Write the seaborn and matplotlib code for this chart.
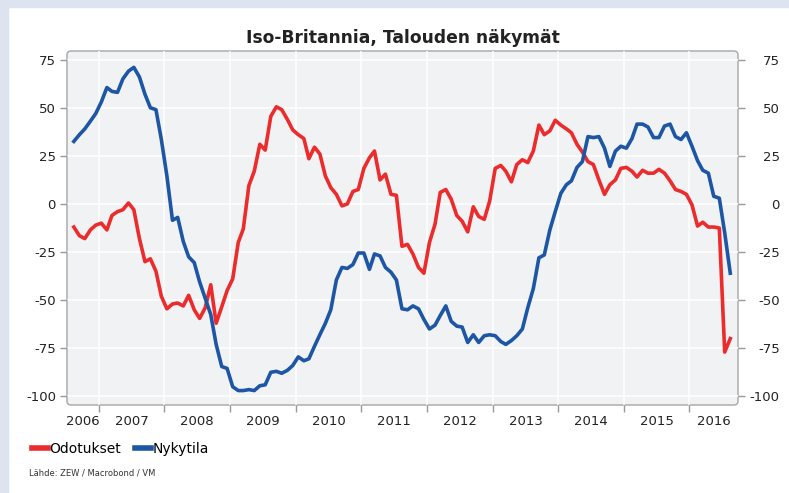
import pandas as pd
import matplotlib
matplotlib.use("Agg")
import matplotlib.pyplot as plt
import matplotlib.dates as mdates
from matplotlib.patches import FancyBboxPatch, Rectangle
import seaborn as sns

# Monthly values, Aug 2006 - Aug 2016
odotukset = [-12, -16.5, -18, -13.5, -11, -10, -13.5, -6, -4, -3, 0.5, -3,
             -18, -30, -28.5, -35, -48, -54.5, -52, -51.5, -53, -47.5, -55, -59.5,
             -54, -42, -62, -53.5, -45, -39, -20, -13, 9.5, 17, 31, 28,
             45.5, 50.5, 49, 44, 38.5, 36, 34, 23.5, 29.5, 26, 14.5, 8.5,
             5, -1, 0, 6.5, 7.5, 18.5, 24, 27.5, 12.5, 15.5, 5, 4.5,
             -22, -21, -26, -33, -36, -20, -10.5, 6, 7.5, 2.5, -6, -9,
             -14.5, -1.5, -6.5, -8, 1.5, 18.5, 20, 17, 11.5, 20.5, 23, 21.5,
             27.5, 41, 36, 38, 43.5, 41, 39, 37, 31, 27, 22, 20.5,
             12.5, 5, 10, 12.5, 18.5, 19, 17, 14, 17.5, 16, 16, 18,
             16, 12, 7.5, 6.5, 5, -0.5, -11.5, -9.5, -12, -12, -12.5, -77,
             -70]
nykytila = [32.5, 36, 39, 43, 47, 53, 60.5, 58.5, 58, 65, 69, 71,
            66, 57, 50, 49, 33.5, 14.5, -8.5, -7, -19.5, -27.5, -30.5, -40.5,
            -49, -57.5, -73, -84.5, -85.5, -95, -97, -97, -96.5, -97, -94.5, -94,
            -87.5, -87, -88, -86.5, -84, -79.5, -81.5, -80.5, -74, -68, -62, -55,
            -39.5, -33, -33.5, -31.5, -25.5, -25.5, -34, -26, -27, -33, -35.5, -39.5,
            -54.5, -55, -53, -54.5, -60, -65, -63, -58, -53, -61, -63.5, -64,
            -72, -68, -72, -68.5, -68, -68.5, -71.5, -73, -71, -68.5, -65, -54,
            -44, -28, -26.5, -13.5, -4, 5.5, 10, 12, 19, 22, 35, 34.5,
            35, 29, 19.5, 27.5, 30, 29, 34, 41.5, 41.5, 40, 34.5, 34.5,
            40.5, 41.5, 35, 33.5, 37, 30, 22.5, 17.5, 16, 4, 3, -15,
            -36]
dates = pd.date_range("2006-08-01", periods=len(odotukset), freq="MS") + pd.Timedelta(days=14)

y_ticks = [75, 50, 25, 0, -25, -50, -75, -100]
years = list(range(2006, 2017))
colors = {"Odotukset": "#ec2c2c", "Nykytila": "#1d56a5"}

df = pd.DataFrame({
    "pvm": list(dates) * 2,
    "arvo": odotukset + nykytila,
    "sarja": ["Odotukset"] * len(dates) + ["Nykytila"] * len(dates),
})

plt.rcParams["axes.unicode_minus"] = False
plt.rcParams["font.family"] = ["DejaVu Sans"]

fig = plt.figure(figsize=(7.89, 4.93), dpi=100)
fig.patches.append(Rectangle((0, 0), 8 / 789, 1, transform=fig.transFigure,
                             color="#dde3ef", zorder=0))
fig.patches.append(Rectangle((0, 1 - 7 / 493), 1, 7 / 493, transform=fig.transFigure,
                             color="#dde3ef", zorder=0))

ax = fig.add_axes([67 / 789, 1 - 405 / 493, 671 / 789, 354 / 493])
ax.patch.set_visible(False)
for s in ax.spines.values():
    s.set_visible(False)

bg = FancyBboxPatch((0, 0), 1, 1, boxstyle="round,pad=0,rounding_size=0.006",
                    mutation_aspect=671 / 354, transform=ax.transAxes,
                    facecolor="#f1f2f4", edgecolor="#aeaeae", lw=1.1,
                    clip_on=False, zorder=0)
ax.add_patch(bg)

sns.lineplot(data=df, x="pvm", y="arvo", hue="sarja", palette=colors,
             linewidth=2.6, ax=ax, legend=True)

x0 = pd.Timestamp("2006-07-08")
x1 = pd.Timestamp("2016-09-27")
ax.set_xlim(x0, x1)
ax.set_ylim(-104.5, 79.5)

# year boundaries as major ticks, year labels centred in visible part
major = [pd.Timestamp(f"{y}-01-01") for y in years[1:]]
lab_pos = []
for y in years:
    a = max(mdates.date2num(pd.Timestamp(f"{y}-01-01")), mdates.date2num(x0))
    b = min(mdates.date2num(pd.Timestamp(f"{y + 1}-01-01")), mdates.date2num(x1))
    lab_pos.append((a + b) / 2)
ax.set_xticks(major)
ax.set_xticklabels([])
ax.set_xticks(lab_pos, minor=True)
ax.set_xticklabels([str(y) for y in years], minor=True)
ax.tick_params(axis="x", which="major", length=5, color="#999999", width=1)
ax.tick_params(axis="x", which="minor", length=0, pad=7, labelsize=9.5, labelcolor="#222222")

ax.set_yticks(y_ticks)
ax.tick_params(axis="y", length=5, color="#999999", width=1, pad=3,
               labelsize=9.5, labelcolor="#222222")

ax.set_axisbelow(True)
ax.grid(True, which="major", color="white", lw=1.1)
ax.set_xlabel("")
ax.set_ylabel("")

ax2 = ax.twinx()
ax2.set_ylim(ax.get_ylim())
ax2.set_yticks(y_ticks)
for s in ax2.spines.values():
    s.set_visible(False)
ax2.tick_params(axis="y", length=5, color="#999999", width=1, pad=25,
                labelsize=9.5, labelcolor="#222222")
for lbl in ax2.get_yticklabels():
    lbl.set_horizontalalignment("right")

ax.set_title("Iso-Britannia, Talouden näkymät", fontsize=12.3, fontweight="bold",
             color="#222222", pad=6)

handles, labels = ax.get_legend_handles_labels()
for h in handles:
    h.set_linewidth(4)
ax.legend(handles, labels, loc="center left", bbox_to_anchor=(32 / 789, 1 - 449 / 493),
          bbox_transform=fig.transFigure, ncol=2, frameon=False, fontsize=10,
          handlelength=1.15, handletextpad=0.1, columnspacing=1.0,
          borderaxespad=0, borderpad=0)

fig.text(29 / 789, 1 - 473 / 493, "Lähde: ZEW / Macrobond / VM", fontsize=6,
         color="#333333", va="center")

fig.savefig("out.png", dpi=100, facecolor="white")
